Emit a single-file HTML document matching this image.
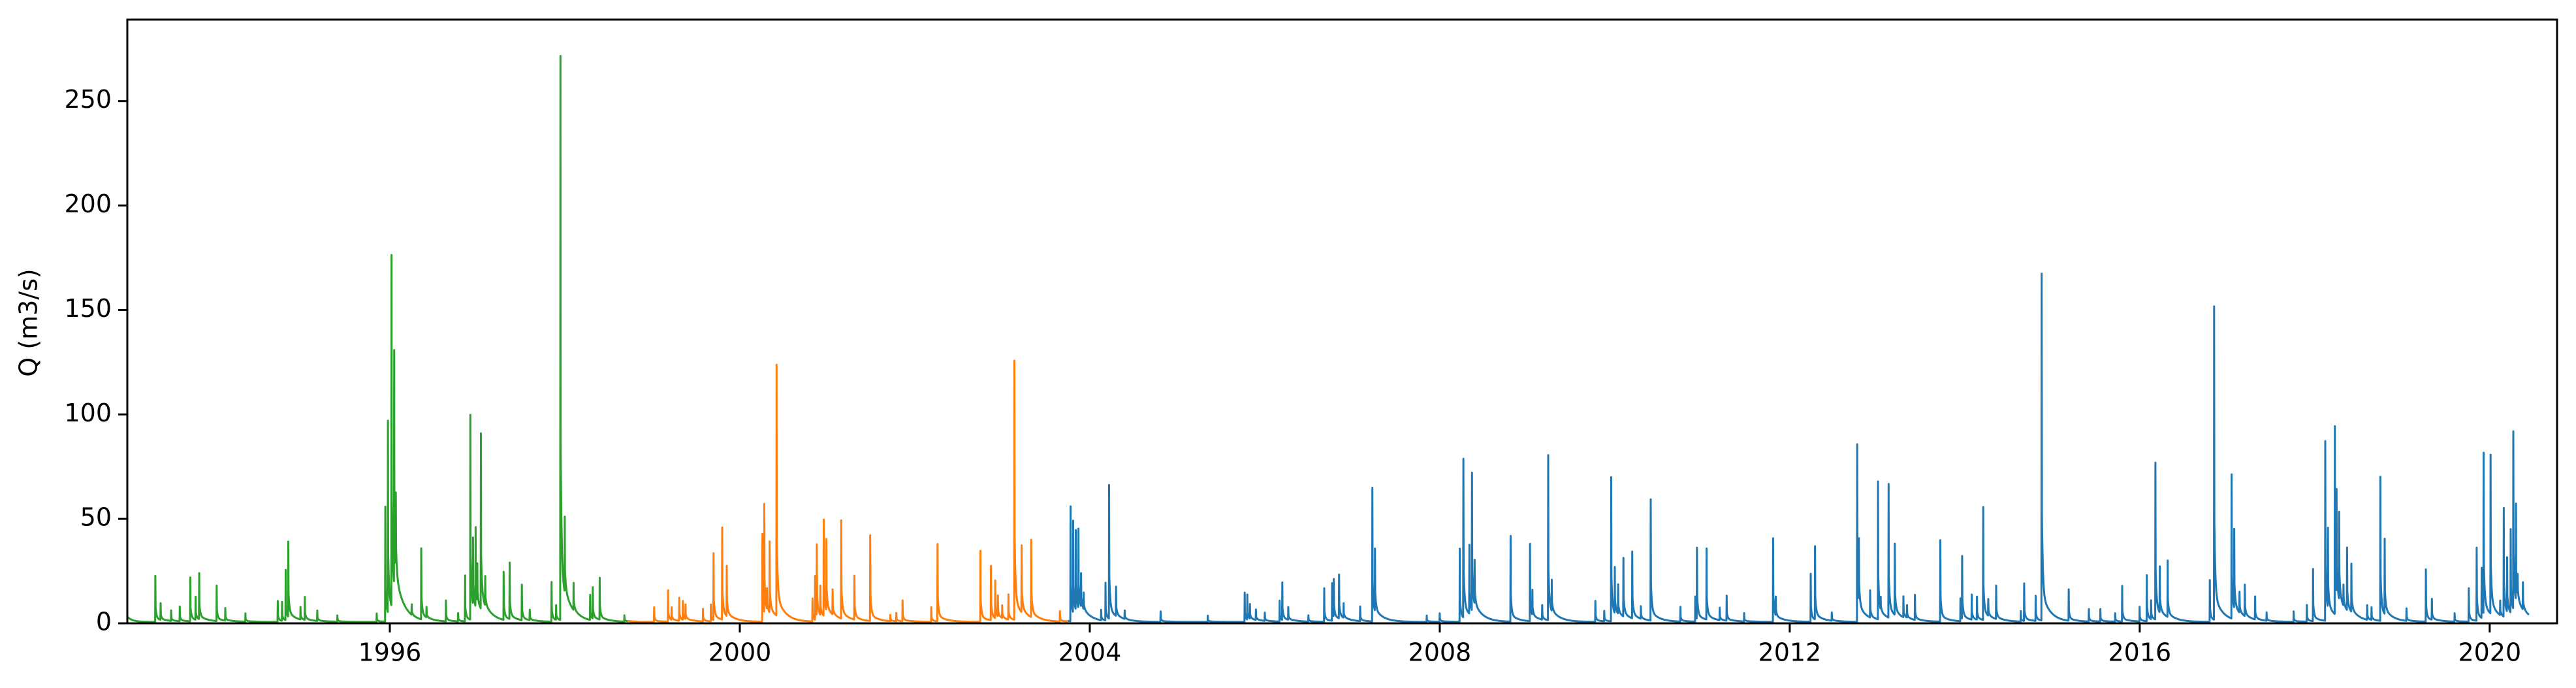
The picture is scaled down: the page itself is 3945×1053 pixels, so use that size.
<!DOCTYPE html>
<html><head><meta charset="utf-8">
<style>
html,body{margin:0;padding:0;background:#fff;}
svg{display:block;font-family:"DejaVu Sans","Liberation Sans",sans-serif;}
</style></head>
<body>
<svg id="chart" width="3945" height="1053" viewBox="0 0 3945 1053" xmlns="http://www.w3.org/2000/svg">
<defs><clipPath id="plotclip"><rect x="195" y="30" width="3721" height="924"/></clipPath></defs>
<rect x="0" y="0" width="3945" height="1053" fill="#fff"/>
<g id="series" clip-path="url(#plotclip)"></g>
<g id="axes"></g>
<rect x="195" y="30" width="3721" height="924" fill="none" stroke="#000" stroke-width="3"/>
<text x="46" y="494" font-size="38" text-anchor="middle" dominant-baseline="middle" transform="rotate(-90 46 494)">Q (m3/s)</text>
</svg>
<script>
// ---- data ----
const greenDates=[1993.32,1993.38,1993.5,1993.6,1993.72,1993.78,1993.82,1994.02,1994.12,1994.35,1994.72,1994.77,1994.81,1994.84,1994.98,1995.03,1995.17,1995.4,1995.85,1995.95,1995.98,1996.02,1996.05,1996.07,1996.25,1996.36,1996.42,1996.64,1996.78,1996.86,1996.92,1996.95,1996.98,1997.0,1997.04,1997.09,1997.30,1997.37,1997.51,1997.6,1997.85,1997.9,1997.95,1998.0,1998.1,1998.29,1998.32,1998.40,1998.68];
const greenPeaks=[22,8,5,7,21,11,22,17,6,4,10,9,24,36,6,11,5,3,4,55,92,168,112,36,5,34,5,10,4,22,98,32,38,18,84,14,23,27,17,5,19,7,270,36,13,12,15,20,3];
const orangeDates=[1999.02,1999.18,1999.22,1999.31,1999.35,1999.38,1999.58,1999.67,1999.70,1999.80,1999.85,2000.26,2000.28,2000.31,2000.34,2000.42,2000.83,2000.86,2000.88,2000.92,2000.96,2000.99,2001.06,2001.16,2001.31,2001.49,2001.72,2001.79,2001.86,2002.19,2002.26,2002.75,2002.87,2002.92,2002.95,2003.0,2003.07,2003.14,2003.22,2003.33,2003.66];
const orangePeaks=[7,15,6,11,9,7,6,8,32,44,24,42,52,10,34,120,11,21,34,14,46,34,12,47,21,41,3,4,10,7,37,34,26,18,10,6,12,124,32,37,5];
const blueDates=[2003.78,2003.81,2003.84,2003.87,2003.9,2003.93,2004.13,2004.18,2004.22,2004.3,2004.4,2004.81,2005.35,2005.77,2005.80,2005.83,2005.9,2006.0,2006.17,2006.20,2006.27,2006.5,2006.68,2006.77,2006.79,2006.85,2006.9,2007.09,2007.23,2007.26,2007.85,2008.0,2008.23,2008.27,2008.34,2008.37,2008.40,2008.81,2009.03,2009.06,2009.17,2009.24,2009.28,2009.78,2009.88,2009.96,2010.0,2010.04,2010.10,2010.20,2010.30,2010.41,2010.75,2010.92,2010.94,2011.05,2011.2,2011.28,2011.48,2011.81,2011.84,2012.24,2012.29,2012.48,2012.77,2012.79,2012.92,2013.01,2013.04,2013.13,2013.20,2013.30,2013.34,2013.43,2013.72,2013.95,2013.97,2014.08,2014.14,2014.21,2014.27,2014.36,2014.64,2014.68,2014.81,2014.88,2015.19,2015.42,2015.55,2015.72,2015.80,2016.0,2016.08,2016.13,2016.18,2016.23,2016.32,2016.80,2016.85,2017.05,2017.08,2017.14,2017.20,2017.32,2017.45,2017.76,2017.91,2017.98,2018.12,2018.15,2018.23,2018.25,2018.28,2018.33,2018.37,2018.42,2018.6,2018.65,2018.75,2018.80,2019.05,2019.27,2019.34,2019.6,2019.76,2019.85,2019.91,2019.93,2020.01,2020.12,2020.16,2020.2,2020.24,2020.27,2020.30,2020.32,2020.38,2020.45];
const bluePeaks=[55,44,38,38,16,8,5,18,64,14,4,5,3,14,12,7,5,4,10,18,6,3,16,18,18,21,7,7,64,30,3,4,35,76,33,66,21,41,37,12,7,79,15,10,5,69,22,14,28,32,6,58,7,12,34,34,6,12,4,40,9,23,35,4,85,30,13,66,6,64,34,10,6,12,39,11,30,12,11,54,8,16,5,18,12,166,15,6,6,4,17,7,22,9,75,22,27,20,150,69,38,10,15,11,4,5,8,25,86,38,90,50,42,10,30,23,7,6,69,36,6,25,10,4,16,35,24,77,76,7,52,26,40,85,46,10,13];
const yTicks=[0,50,100,150,200,250];
const xTicks=[1996,2000,2004,2008,2012,2016,2020];

// ---- axes functions ----
const X0=195,X1=3916,Y0=954,Y1=30;
const T0=1993.0,T1=2020.77,V0=0,V1=289;
function xs(t){return X0+(t-T0)/(T1-T0)*(X1-X0);}
function ys(v){return Y0-(v-V0)/(V1-V0)*(Y0-Y1);}
const NS="http://www.w3.org/2000/svg";

function buildPath(dates,peaks,tStart,tEnd,startVal){
  const day=1/365.25;
  const n=Math.round((tEnd-tStart)/day);
  const evDay=dates.map(d=>Math.round((d-tStart)/day));
  const pts=[];
  for(let i=0;i<=n;i++){
    let q=0.7+startVal*Math.exp(-i/20);
    for(let k=0;k<evDay.length;k++){
      const dd=i-evDay[k];
      if(dd===0) q+=peaks[k];
      else if(dd>0 && dd<240) q+=peaks[k]*(0.3*Math.exp(-dd/4)+0.08*Math.exp(-dd/35));
    }
    pts.push(xs(tStart+i*day).toFixed(1)+","+ys(q).toFixed(1));
  }
  return "M"+pts.join("L");
}
const sg=document.getElementById("series");
function addSeries(name,color,dates,peaks,a,b,sv){
  const p=document.createElementNS(NS,"path");
  p.setAttribute("d",buildPath(dates,peaks,a,b,sv));
  p.setAttribute("fill","none");
  p.setAttribute("stroke",color);
  p.setAttribute("stroke-width","3");
  p.setAttribute("stroke-linejoin","round");
  
  
  sg.appendChild(p);
}
addSeries("series-green","#2ca02c",greenDates,greenPeaks,1993.0,1998.72,2.5);
addSeries("series-orange","#ff7f0e",orangeDates,orangePeaks,1998.72,2003.75,0.5);
addSeries("series-blue","#1f77b4",blueDates,bluePeaks,2003.75,2020.77,0.5);

const ax=document.getElementById("axes");
yTicks.forEach(v=>{
  const y=ys(v);
  const l=document.createElementNS(NS,"line");
  l.setAttribute("x1",X0-14);l.setAttribute("x2",X0);l.setAttribute("y1",y);l.setAttribute("y2",y);
  l.setAttribute("stroke","#000");l.setAttribute("stroke-width","3");
  
  
  ax.appendChild(l);
  const t=document.createElementNS(NS,"text");
  t.setAttribute("x",X0-24);t.setAttribute("y",y);
  t.setAttribute("font-size","38");t.setAttribute("text-anchor","end");t.setAttribute("dominant-baseline","middle");
  t.textContent=v;
  
  
  ax.appendChild(t);
});
xTicks.forEach(v=>{
  const x=xs(v);
  const l=document.createElementNS(NS,"line");
  l.setAttribute("x1",x);l.setAttribute("x2",x);l.setAttribute("y1",Y0);l.setAttribute("y2",Y0+14);
  l.setAttribute("stroke","#000");l.setAttribute("stroke-width","3");
  
  
  ax.appendChild(l);
  const t=document.createElementNS(NS,"text");
  t.setAttribute("x",x);t.setAttribute("y",1001);
  t.setAttribute("font-size","38");t.setAttribute("text-anchor","middle");t.setAttribute("dominant-baseline","middle");
  t.textContent=v;
  
  
  ax.appendChild(t);
});
</script>
</body></html>
